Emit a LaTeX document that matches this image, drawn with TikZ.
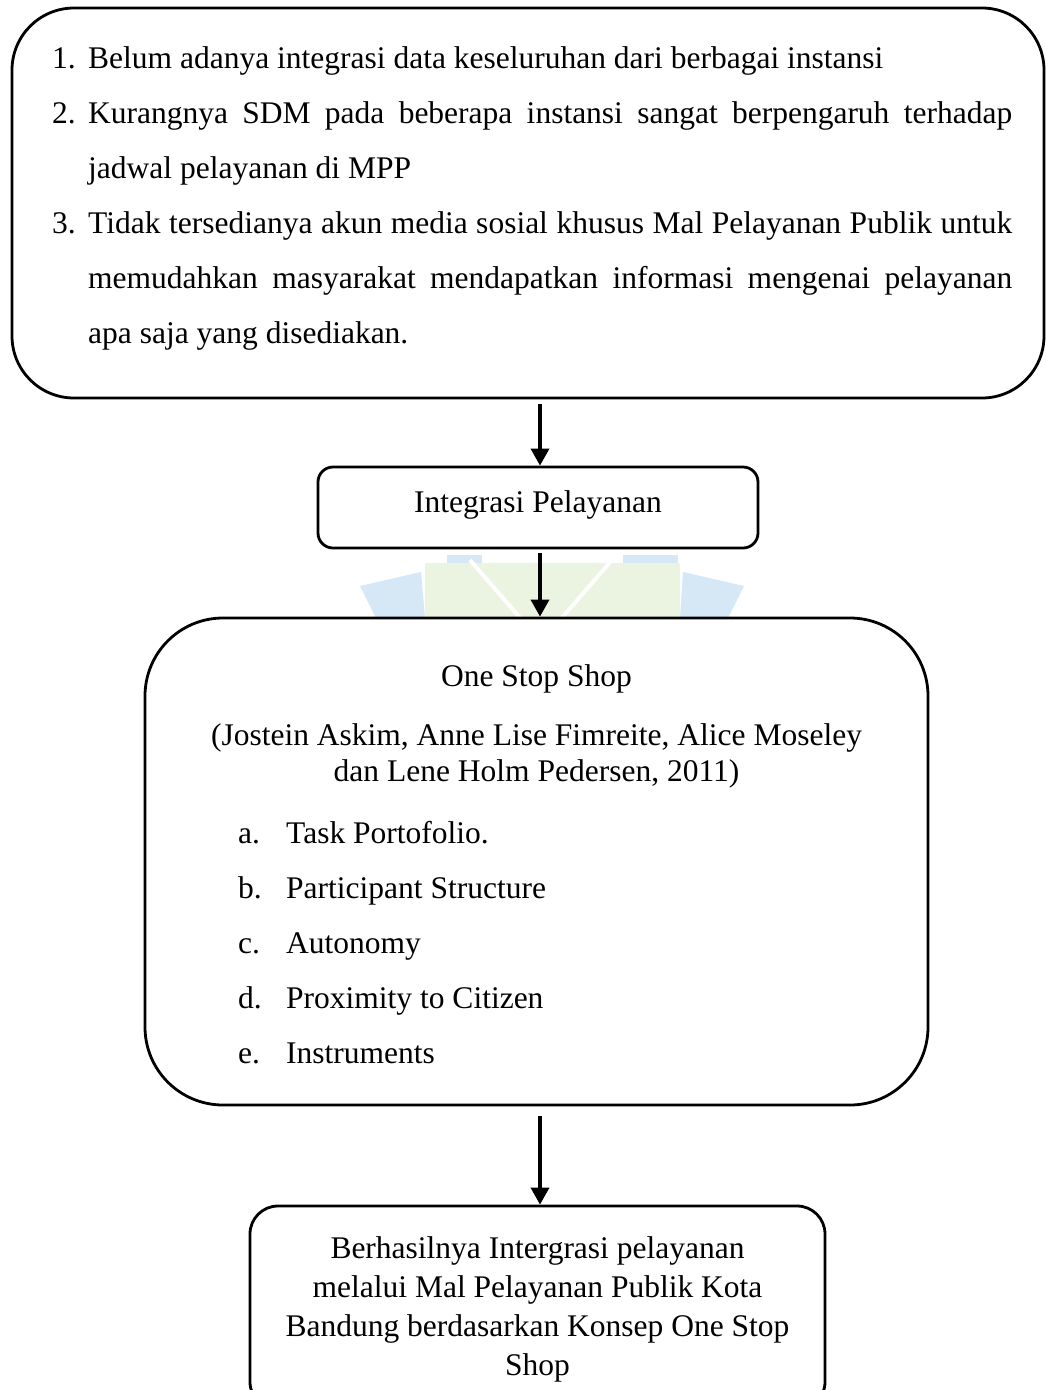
\documentclass[tikz,border=0pt]{standalone}
\usepackage{fontspec}
\setmainfont{Liberation Serif}
\usetikzlibrary{arrows.meta}
\definecolor{wmgreen}{RGB}{234,244,224}
\definecolor{wmblue}{RGB}{214,231,245}
\begin{document}
\begin{tikzpicture}[x=1pt,y=-1pt,
  box/.style={draw=black, line width=2.8pt, inner sep=0pt, fill=white},
  txt/.style={inner sep=0pt, text=black, font=\fontsize{31.5}{36}\selectfont},
  arr/.style={line width=3.6pt, -{Triangle[width=18pt,length=17pt]}}]
\useasboundingbox (0,0) rectangle (1046,1390);
\clip (0,0) rectangle (1046,1390);
\fill[white] (0,0) rectangle (1046,1390);
% faint watermark
\fill[wmgreen] (425,563) -- (680,563) -- (680,618) -- (425,618) -- cycle;
\fill[wmblue] (360,586) -- (421,572) -- (425,618) -- (376,618) -- cycle;
\fill[wmblue] (683,572) -- (744,586) -- (728,618) -- (680,618) -- cycle;
\fill[wmblue] (447,555) -- (482,555) -- (482,563) -- (447,563) -- cycle;
\fill[wmblue] (623,555) -- (678,555) -- (678,563) -- (623,563) -- cycle;
\draw[white, line width=4pt] (470,560) -- (522,620);
\draw[white, line width=4pt] (612,560) -- (560,620);
% boxes
\node[box, rounded corners=62pt, minimum width=1032pt, minimum height=390pt] (top) at (528,203) {};
\node[box, rounded corners=15pt, minimum width=440pt, minimum height=81pt] (integ) at (538,507.5) {};
\node[box, rounded corners=78pt, minimum width=783pt, minimum height=487pt] (oss) at (536.5,861.5) {};
\node[box, rounded corners=28pt, minimum width=575pt, minimum height=204pt] (hasil) at (537.5,1308) {};
% top box text
\node[txt, anchor=base west] (n1) at (52,68) {1.};
\node[txt, anchor=base west] (t1) at (88,68) {Belum adanya integrasi data keseluruhan dari berbagai instansi};
\node[txt, anchor=base west] (n2) at (52,123) {2.};
\node[txt, anchor=base west] (t2a) at (88,123) {\makebox[924pt][s]{Kurangnya SDM pada beberapa instansi sangat berpengaruh terhadap}};
\node[txt, anchor=base west] (t2b) at (88,178) {jadwal pelayanan di MPP};
\node[txt, anchor=base west] (n3) at (52,233) {3.};
\node[txt, anchor=base west] (t3a) at (88,233) {\makebox[924pt][s]{Tidak tersedianya akun media sosial khusus Mal Pelayanan Publik untuk}};
\node[txt, anchor=base west] (t3b) at (88,288) {\makebox[924pt][s]{memudahkan masyarakat mendapatkan informasi mengenai pelayanan}};
\node[txt, anchor=base west] (t3c) at (88,343) {apa saja yang disediakan.};
% integrasi
\node[txt, anchor=base] (ti) at (538,512) {Integrasi Pelayanan};
% one stop shop
\node[txt, anchor=base] (o1) at (536.5,686) {One Stop Shop};
\node[txt, anchor=base] (o2) at (536.5,745) {(Jostein Askim, Anne Lise Fimreite, Alice Moseley};
\node[txt, anchor=base] (o3) at (536.5,781) {dan Lene Holm Pedersen, 2011)};
\node[txt, anchor=base west] (la) at (238,843) {a.};
\node[txt, anchor=base west] (ia) at (286,843) {Task Portofolio.};
\node[txt, anchor=base west] (lb) at (238,898) {b.};
\node[txt, anchor=base west] (ib) at (286,898) {Participant Structure};
\node[txt, anchor=base west] (lc) at (238,953) {c.};
\node[txt, anchor=base west] (ic) at (286,953) {Autonomy};
\node[txt, anchor=base west] (ld) at (238,1008) {d.};
\node[txt, anchor=base west] (id) at (286,1008) {Proximity to Citizen};
\node[txt, anchor=base west] (le) at (238,1063) {e.};
\node[txt, anchor=base west] (ie) at (286,1063) {Instruments};
% result box text
\node[txt, anchor=base] (r1) at (537.5,1258) {Berhasilnya Intergrasi pelayanan};
\node[txt, anchor=base] (r2) at (537.5,1297) {melalui Mal Pelayanan Publik Kota};
\node[txt, anchor=base] (r3) at (537.5,1336) {Bandung berdasarkan Konsep One Stop};
\node[txt, anchor=base] (r4) at (537.5,1375) {Shop};
% arrows
\draw[arr] ([xshift=12pt, yshift=-5pt]top.south) -- ([xshift=2pt]integ.north);
\draw[arr] ([xshift=2pt, yshift=-4pt]integ.south) -- ([xshift=3.5pt]oss.north);
\draw[arr] ([xshift=3.5pt, yshift=-10pt]oss.south) -- ([xshift=2.5pt]hasil.north);
\end{tikzpicture}
\end{document}
